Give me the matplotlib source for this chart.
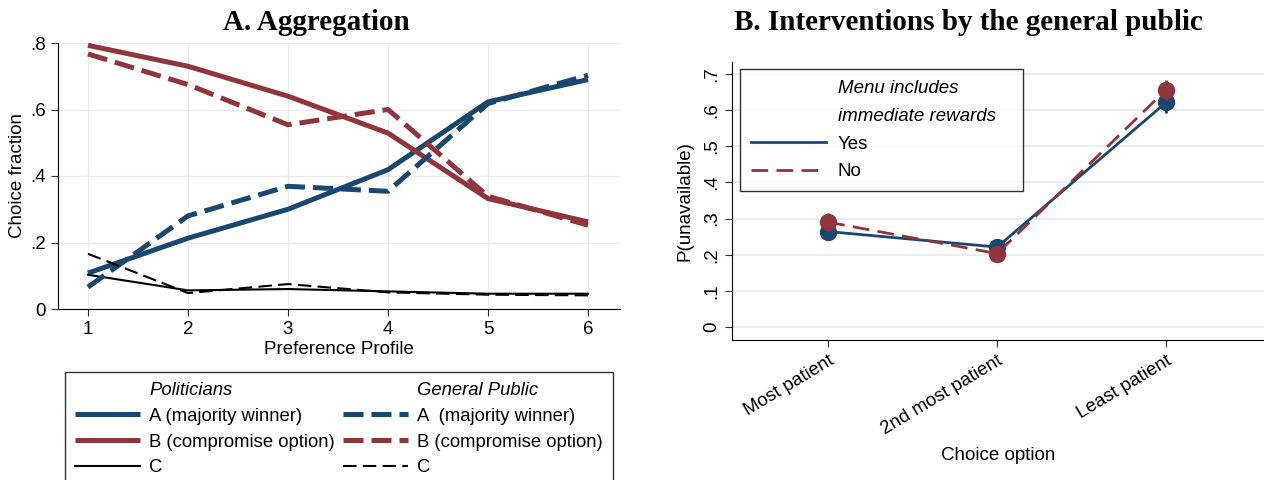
import matplotlib
matplotlib.use("Agg")
import matplotlib.pyplot as plt
from matplotlib.lines import Line2D

plt.rcParams['font.family'] = ['Liberation Sans', 'DejaVu Sans']

# ---- Panel A data ----
profiles = [1, 2, 3, 4, 5, 6]
pol_A = [0.108, 0.213, 0.300, 0.419, 0.623, 0.690]
pol_B = [0.793, 0.730, 0.640, 0.529, 0.332, 0.262]
pol_C = [0.103, 0.056, 0.060, 0.053, 0.046, 0.046]
gp_A = [0.066, 0.280, 0.369, 0.354, 0.618, 0.703]
gp_B = [0.767, 0.675, 0.554, 0.600, 0.339, 0.252]
gp_C = [0.166, 0.048, 0.075, 0.050, 0.043, 0.041]
a_yticks = [0, 0.2, 0.4, 0.6, 0.8]
a_yticklabels = ['0', '.2', '.4', '.6', '.8']

# ---- Panel B data ----
options = ['Most patient', '2nd most patient', 'Least patient']
yes_vals = [0.264, 0.221, 0.621]
yes_err = [0.024, 0.020, 0.028]
no_vals = [0.290, 0.203, 0.656]
no_err = [0.025, 0.020, 0.027]
b_yticks = [0, 0.1, 0.2, 0.3, 0.4, 0.5, 0.6, 0.7]
b_yticklabels = ['0', '.1', '.2', '.3', '.4', '.5', '.6', '.7']

BLUE = '#1a476f'
RED = '#90353b'
FS = 13.5

W, H = 1264, 480
fig = plt.figure(figsize=(W / 100, H / 100), dpi=100)

def ax_rect(l, t, r, b):
    return [l / W, 1 - b / H, (r - l) / W, (b - t) / H]

def box(l, t, r, b):
    return (l / W, 1 - b / H, (r - l) / W, (b - t) / H)

# ---------------- Panel A ----------------
axA = fig.add_axes(ax_rect(58, 43, 620, 309))
thick = 3.6
lA1, = axA.plot(profiles, pol_A, color=BLUE, lw=thick, solid_capstyle='butt')
lB1, = axA.plot(profiles, pol_B, color=RED, lw=thick, solid_capstyle='butt')
lC1, = axA.plot(profiles, pol_C, color='black', lw=1.5)
lA2, = axA.plot(profiles, gp_A, color=BLUE, lw=thick, dashes=(4, 1.6))
lB2, = axA.plot(profiles, gp_B, color=RED, lw=thick, dashes=(4, 1.6))
lC2, = axA.plot(profiles, gp_C, color='black', lw=1.5, dashes=(6.5, 3))
axA.set_xlim(0.7, 6.32)
axA.set_ylim(0, 0.8)
axA.set_xticks(profiles)
axA.set_yticks(a_yticks)
axA.set_yticklabels(a_yticklabels)
axA.grid(True, color='#ececec', lw=1)
axA.set_axisbelow(True)
for s in ['top', 'right']:
    axA.spines[s].set_visible(False)
axA.tick_params(labelsize=FS, length=5, color='#333333')
axA.set_xlabel('Preference Profile', fontsize=FS)
axA.xaxis.set_label_coords((339 - 58) / 562, (309 - 350) / 266)
axA.xaxis.label.set_va('center')
axA.set_ylabel('Choice fraction', fontsize=FS)
axA.yaxis.set_label_coords((18 - 58) / 562, 0.5)
axA.yaxis.label.set_va('center')
fig.text(316 / W, 1 - 22 / H, 'A. Aggregation', ha='center', va='center',
         fontsize=21, fontweight='bold', family='Liberation Serif')

blank = Line2D([], [], color='none')
handles = [blank, lA1, lB1, lC1, blank, lA2, lB2, lC2]
labels = ['Politicians', 'A (majority winner)', 'B (compromise option)', 'C',
          'General Public', 'A  (majority winner)', 'B (compromise option)', 'C']
leg = fig.legend(handles, labels, ncol=2, loc='upper left', mode='expand',
                 bbox_to_anchor=box(65, 372, 613, 480), fontsize=13.3,
                 frameon=True, fancybox=False, edgecolor='black',
                 handlelength=3.5, handletextpad=0.5, labelspacing=0.47,
                 columnspacing=0.5, borderpad=0.55, borderaxespad=0)
leg.get_frame().set_linewidth(1)
leg.get_texts()[0].set_style('italic')
leg.get_texts()[4].set_style('italic')

# ---------------- Panel B ----------------
axB = fig.add_axes(ax_rect(732, 62, 1264, 340))
xpos = [1, 2, 3]
axB.errorbar(xpos, yes_vals, yerr=yes_err, color=BLUE, lw=2, marker='o',
             markersize=11.5, elinewidth=2, capsize=0, zorder=3)
axB.errorbar(xpos, no_vals, yerr=no_err, color=RED, lw=2, marker='o',
             markersize=11.5, elinewidth=2, capsize=0, dashes=(6, 3),
             zorder=4)
axB.set_xlim(0.43, 3.58)
axB.set_ylim(-0.036, 0.733)
axB.set_xticks(xpos)
axB.set_xticklabels(options, rotation=31, ha='right', rotation_mode='anchor',
                    fontsize=FS)
axB.set_yticks(b_yticks)
axB.set_yticklabels(b_yticklabels, rotation=90, va='center', fontsize=FS)
axB.yaxis.grid(True, color='#e6eef0', lw=1.2)
axB.set_axisbelow(True)
for s in ['top', 'right']:
    axB.spines[s].set_visible(False)
axB.tick_params(length=5, color='#333333')
axB.tick_params(axis='x', pad=4)
axB.set_ylabel('P(unavailable)', fontsize=FS)
axB.yaxis.set_label_coords((685 - 732) / 532, 0.5)
axB.yaxis.label.set_va('center')
axB.set_xlabel('Choice option', fontsize=FS)
axB.xaxis.set_label_coords((998 - 732) / 532, (340 - 455) / 278)
axB.xaxis.label.set_va('center')

hY = Line2D([], [], color=BLUE, lw=2)
hN = Line2D([], [], color=RED, lw=2, dashes=(6, 3))
legB = fig.legend([blank, blank, hY, hN],
                  ['Menu includes', 'immediate rewards', 'Yes', 'No'],
                  loc='upper left', mode='expand',
                  bbox_to_anchor=box(740, 69, 1023, 186),
                  fontsize=FS, frameon=True, fancybox=False,
                  edgecolor='black', handlelength=4.0, handletextpad=0.6,
                  labelspacing=0.56, borderpad=0.6, borderaxespad=0)
legB.get_texts()[0].set_style('italic')
legB.get_texts()[1].set_style('italic')
legB.get_frame().set_linewidth(1)
fig.text(968 / W, 1 - 22 / H, 'B. Interventions by the general public',
         ha='center', va='center', fontsize=21, fontweight='bold',
         family='Liberation Serif')

fig.savefig('out.png', dpi=100)
